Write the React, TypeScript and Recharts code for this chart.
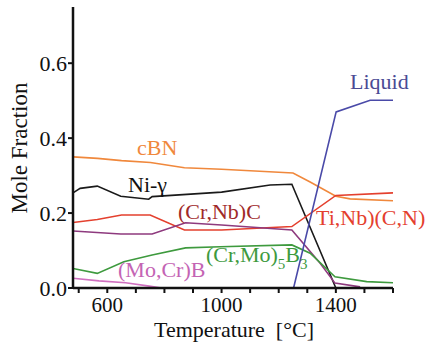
import React from "react";
import { LineChart, Line, XAxis, YAxis } from "recharts";

const cbnT = [480, 566, 650, 751, 870, 1000, 1250, 1310, 1400, 1450, 1600];
const cbnV = [0.35, 0.346, 0.34, 0.335, 0.321, 0.317, 0.307, 0.283, 0.245, 0.238, 0.233];

const niT = [480, 505, 565, 647, 745, 757, 1000, 1170, 1246, 1400];
const niV = [0.254, 0.266, 0.272, 0.245, 0.237, 0.244, 0.256, 0.275, 0.277, 0.0];

const tiT = [480, 565, 650, 750, 870, 1000, 1246, 1400, 1600];
const tiV = [0.175, 0.183, 0.195, 0.195, 0.155, 0.155, 0.164, 0.247, 0.254];

const crnbT = [480, 647, 757, 874, 1000, 1246, 1345, 1397, 1485];
const crnbV = [0.152, 0.144, 0.144, 0.174, 0.168, 0.155, 0.066, 0.013, 0.003];

const m5b3T = [480, 565, 658, 757, 874, 996, 1246, 1310, 1397, 1508, 1600];
const m5b3V = [0.052, 0.039, 0.07, 0.088, 0.107, 0.11, 0.115, 0.093, 0.03, 0.017, 0.014];

const mocrT = [480, 571, 664, 747, 790];
const mocrV = [0.026, 0.019, 0.014, 0.005, 0.0];

const liqT = [1252, 1401, 1520, 1600];
const liqV = [0, 0.47, 0.501, 0.501];

const xTicks = [500, 600, 700, 800, 900, 1000, 1100, 1200, 1300, 1400, 1500, 1600];
const xLabeled = [600, 1000, 1400];
const yTicks = [0, 0.2, 0.4, 0.6];

const zip = (t: number[], v: number[]) => t.map((x, i) => ({ t: x, v: v[i] }));

const FONT = "'Liberation Serif', 'Times New Roman', serif";

const series = [
  { name: "cBN", data: zip(cbnT, cbnV), color: "#F0883C" },
  { name: "Ni", data: zip(niT, niV), color: "#1a1a1a" },
  { name: "TiNb", data: zip(tiT, tiV), color: "#E4402E" },
  { name: "CrNb", data: zip(crnbT, crnbV), color: "#8E3A7E" },
  { name: "CrMo", data: zip(m5b3T, m5b3V), color: "#3E9A3E" },
  { name: "MoCr", data: zip(mocrT, mocrV), color: "#D070C0" },
  { name: "Liquid", data: zip(liqT, liqV), color: "#4A4AA8" },
];

const xTickStyle = { fill: "#111", fontSize: 21, fontFamily: FONT, style: { fontFamily: FONT } };
const yTickStyle = { fill: "#111", fontSize: 22, fontFamily: FONT, style: { fontFamily: FONT } };

export default function App() {
  return (
    <div
      style={{
        position: "absolute",
        left: 0,
        top: 0,
        width: 440,
        height: 343,
        background: "#fff",
        fontFamily: FONT,
      }}
    >
      <LineChart
        width={440}
        height={343}
        margin={{ top: 7, right: 47, bottom: 0, left: 0 }}
        style={{ fontFamily: FONT }}
      >
        <XAxis
          type="number"
          dataKey="t"
          domain={[480, 1600]}
          ticks={xTicks}
          allowDataOverflow
          interval={0}
          height={55}
          tickSize={5}
          tickMargin={4}
          tickFormatter={(v: number) => (xLabeled.includes(v) ? String(v) : "")}
          axisLine={{ stroke: "#111", strokeWidth: 2.5 }}
          tickLine={{ stroke: "#111", strokeWidth: 2 }}
          tick={xTickStyle}
        />
        <YAxis
          type="number"
          dataKey="v"
          domain={[0, 0.75]}
          ticks={yTicks}
          allowDataOverflow
          width={73}
          tickSize={5}
          tickMargin={1}
          tickFormatter={(v: number) => v.toFixed(1)}
          axisLine={{ stroke: "#111", strokeWidth: 2.5 }}
          tickLine={{ stroke: "#111", strokeWidth: 2 }}
          tick={yTickStyle}
        />
        {series.map((s) => (
          <Line
            key={s.name}
            data={s.data}
            dataKey="v"
            type="linear"
            stroke={s.color}
            strokeWidth={1.6}
            dot={false}
            isAnimationActive={false}
          />
        ))}
      </LineChart>
      <svg
        width={440}
        height={343}
        style={{ position: "absolute", left: 0, top: 0, pointerEvents: "none", fontFamily: FONT }}
        fontSize={22}
      >
        <text x={234} y={337} textAnchor="middle" fill="#111" fontSize={22}>
          Temperature{"\u00a0\u00a0"}[°C]
        </text>
        <text
          x={0}
          y={0}
          transform="translate(27,148) rotate(-90)"
          textAnchor="middle"
          fill="#111"
          fontSize={23}
        >
          Mole Fraction
        </text>
        <text x={137} y={155} fill="#F0883C">cBN</text>
        <text x={128} y={192} fill="#111">Ni-γ</text>
        <text x={178} y={219} fill="#A02A2A">(Cr,Nb)C</text>
        <text x={316} y={225} fill="#E4402E">Ti,Nb)(C,N)</text>
        <text x={118} y={277} fill="#C464B4">(Mo,Cr)B</text>
        <text x={206} y={262} fill="#3E9A3E">
          (Cr,Mo)
          <tspan fontSize={15} dy={7}>5</tspan>
          <tspan dy={-7}>B</tspan>
          <tspan fontSize={15} dy={7}>3</tspan>
        </text>
        <text x={350} y={89} fill="#4A4A94">Liquid</text>
      </svg>
    </div>
  );
}
